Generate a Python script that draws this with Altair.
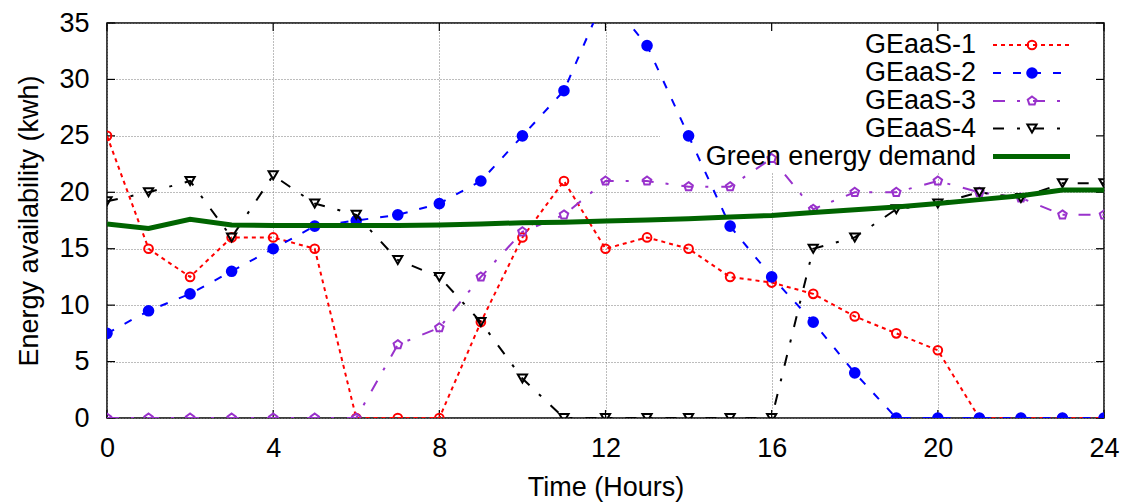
import altair as alt
import pandas as pd

# ---------------- data ----------------
hours = list(range(25))
geaas1 = [25, 15, 12.5, 16, 16, 15, 0, 0, 0, 8.5, 16, 21, 15, 16, 15, 12.5, 12, 11, 9, 7.5, 6, 0, 0, 0, 0]
geaas2 = [7.5, 9.5, 11, 13, 15, 17, 17.5, 18, 19, 21, 25, 29, 37.5, 33, 25, 17, 12.5, 8.5, 4, 0, 0, 0, 0, 0, 0]
geaas3 = [0, 0, 0, 0, 0, 0, 0, 6.5, 8, 12.5, 16.5, 18, 21, 21, 20.5, 20.5, 23, 18.5, 20, 20, 21, 20, 19.5, 18, 18]
geaas4 = [19.2, 20, 21, 16, 21.5, 19, 18, 14, 12.5, 8.5, 3.5, 0, 0, 0, 0, 0, 0, 15, 16, 18.5, 19, 20, 19.5, 20.8, 20.8]
demand = [17.2, 16.8, 17.6, 17.1, 17.05, 17.05, 17.05, 17.05, 17.1, 17.2, 17.3, 17.35, 17.45, 17.55, 17.65,
          17.8, 17.95, 18.2, 18.45, 18.7, 19.0, 19.35, 19.7, 20.2, 20.2]

series_names = ["GEaaS-1", "GEaaS-2", "GEaaS-3", "GEaaS-4"]
series_values = [geaas1, geaas2, geaas3, geaas4]
demand_name = "Green energy demand"

x_ticks = [0, 4, 8, 12, 16, 20, 24]
y_ticks = [0, 5, 10, 15, 20, 25, 30, 35]

# ---------------- styles ----------------
FONT = "Liberation Sans"
FS = 27
W, H = 997, 395
PENTAGON = "M0,-1L0.951,-0.309L0.588,0.809L-0.588,0.809L-0.951,-0.309Z"
styles = [
    dict(color="#ff0000", dash=[4, 4], shape="circle", filled=False, size=75),
    dict(color="#0000ff", dash=[8, 12], shape="circle", filled=True, size=135),
    dict(color="#9932cc", dash=[12, 12, 3, 13], shape=PENTAGON, filled=False, size=80),
    dict(color="#000000", dash=[11, 13, 3, 13], shape="triangle-down", filled=False, size=85),
]
demand_color = "#006400"

xscale = alt.Scale(domain=[0, 24], nice=False, zero=False)
yscale = alt.Scale(domain=[0, 35], nice=False)
common_axis = dict(grid=True, ticks=False, domain=False, labelFont=FONT, titleFont=FONT,
                   labelFontSize=FS, titleFontSize=FS, labelColor="black", titleColor="black",
                   titleFontWeight="normal", gridColor="#7a7a7a", gridDash=[1, 2], gridWidth=1,
                   labelFlush=False, labelOverlap=False)
xaxis = alt.Axis(values=x_ticks, title="Time (Hours)", labelPadding=17, titlePadding=13, **common_axis)
yaxis = alt.Axis(values=y_ticks, title="Energy availability (kwh)", labelPadding=18, titlePadding=15, **common_axis)

X = alt.X("hour:Q", scale=xscale, axis=xaxis)
Y = alt.Y("kwh:Q", scale=yscale, axis=yaxis)

one = pd.DataFrame({"k": [0]})
layers = []

# base layer establishing axes/grid
base_df = pd.DataFrame({"hour": hours, "kwh": demand})
layers.append(alt.Chart(base_df).mark_line(opacity=0).encode(x=X, y=Y))

# opaque legend box (hides grid behind key, as in gnuplot)
layers.append(alt.Chart(one).mark_rect(color="white").encode(
    x=alt.value(553), x2=alt.value(996), y=alt.value(1), y2=alt.value(150)))

# inward ticks on all four sides
xt = pd.DataFrame({"hour": x_ticks})
yt = pd.DataFrame({"kwh": y_ticks})
tick_style = dict(color="black", strokeWidth=1.2)
layers.append(alt.Chart(yt).mark_rule(**tick_style).encode(y=Y, x=alt.value(0), x2=alt.value(8)))
layers.append(alt.Chart(yt).mark_rule(**tick_style).encode(y=Y, x=alt.value(W - 8), x2=alt.value(W)))
layers.append(alt.Chart(xt).mark_rule(**tick_style).encode(x=X, y=alt.value(H - 8), y2=alt.value(H)))
layers.append(alt.Chart(xt).mark_rule(**tick_style).encode(x=X, y=alt.value(0), y2=alt.value(8)))

# data series
for name, vals, st in zip(series_names, series_values, styles):
    df = pd.DataFrame({"hour": hours, "kwh": vals})
    layers.append(alt.Chart(df).mark_line(color=st["color"], strokeDash=st["dash"], strokeWidth=2,
                                          clip=True).encode(x=X, y=Y))
    layers.append(alt.Chart(df).mark_point(color=st["color"], shape=st["shape"], filled=st["filled"],
                                           size=st["size"], strokeWidth=2, opacity=1,
                                           clip=True).encode(x=X, y=Y))

layers.append(alt.Chart(base_df).mark_line(color=demand_color, strokeWidth=5, clip=True).encode(x=X, y=Y))

# manual key (labels to the left of samples, gnuplot style)
row_y = [22, 50, 78, 105.5, 133.5]
text_x, s_x1, s_x2, m_x = 869, 886, 963, 925
for i, (name, st) in enumerate(zip(series_names, styles)):
    layers.append(alt.Chart(one).mark_text(align="right", baseline="middle", font=FONT, fontSize=FS,
                                           color="black", text=name).encode(
        x=alt.value(text_x), y=alt.value(row_y[i])))
    layers.append(alt.Chart(one).mark_rule(color=st["color"], strokeDash=st["dash"], strokeWidth=2).encode(
        x=alt.value(s_x1), x2=alt.value(s_x2), y=alt.value(row_y[i])))
    layers.append(alt.Chart(one).mark_point(color=st["color"], shape=st["shape"], filled=st["filled"],
                                            size=st["size"], strokeWidth=2, opacity=1).encode(
        x=alt.value(m_x), y=alt.value(row_y[i])))
layers.append(alt.Chart(one).mark_text(align="right", baseline="middle", font=FONT, fontSize=FS,
                                       color="black", text=demand_name).encode(
    x=alt.value(text_x), y=alt.value(row_y[4])))
layers.append(alt.Chart(one).mark_rule(color=demand_color, strokeWidth=5).encode(
    x=alt.value(s_x1), x2=alt.value(s_x2), y=alt.value(row_y[4])))

chart = alt.layer(*layers).properties(
    width=W, height=H,
    autosize=alt.AutoSizeParams(type="none"),
    padding={"left": 107, "top": 23, "right": 20, "bottom": 84},
    background="white",
).configure_view(stroke="black", strokeWidth=1.5)

chart.save("out.html", embed_options={"renderer": "svg", "actions": False})
